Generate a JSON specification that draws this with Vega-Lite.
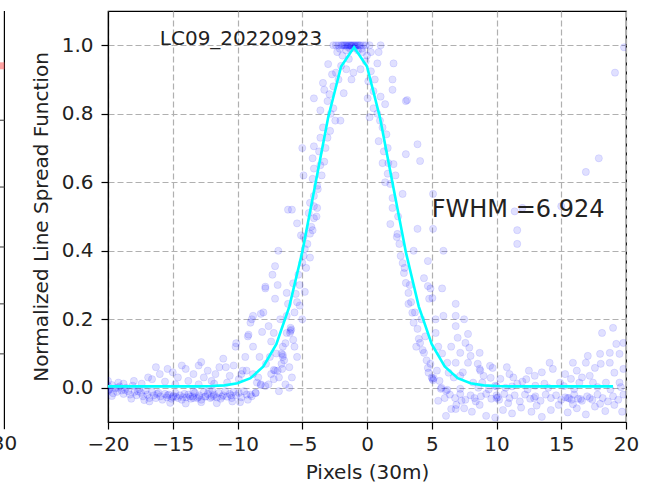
{
  "$schema": "https://vega.github.io/schema/vega-lite/v6.json",
  "width": 518,
  "height": 411,
  "autosize": {"type": "none"},
  "padding": {"left": 108, "top": 11, "right": 39, "bottom": 64},
  "background": "#ffffff",
  "config": {
    "view": {"stroke": "#000000", "strokeWidth": 1.2},
    "font": "DejaVu Sans",
    "axis": {
      "domainColor": "#000000", "domainWidth": 1.2,
      "tickColor": "#000000", "tickWidth": 1.2, "tickSize": 7,
      "labelFont": "DejaVu Sans", "labelFontSize": 20, "labelColor": "#222222",
      "titleFont": "DejaVu Sans", "titleFontSize": 20, "titleFontWeight": "normal", "titleColor": "#222222",
      "gridColor": "#b0b0b0", "gridDash": [6, 3], "gridWidth": 1.2, "gridOpacity": 1,
      "labelFlush": false, "labelOverlap": false
    }
  },
  "datasets": {
    "pts": [
      {"x":-20,"y":0.005},{"x":-20,"y":-0.01},{"x":-19.85,"y":-0.004},{"x":-19.7,"y":0.008},{"x":-19.6,"y":-0.016},{"x":-19.45,"y":-0.002},{"x":-19.3,"y":-0.012},{"x":-19.1,"y":0.004},{"x":-18.95,"y":-0.008},{"x":-18.8,"y":-0.018},{"x":-18.6,"y":0.0},{"x":-18.45,"y":-0.01},{"x":-18.3,"y":-0.02},{"x":-18.1,"y":0.006},{"x":-17.95,"y":-0.012},{"x":-17.8,"y":-0.022},{"x":-17.6,"y":-0.004},{"x":-17.45,"y":-0.015},{"x":-17.3,"y":-0.025},{"x":-17.1,"y":-0.008},{"x":-16.95,"y":-0.02},{"x":-16.8,"y":-0.03},{"x":-16.6,"y":-0.012},{"x":-16.45,"y":-0.022},{"x":-16.3,"y":-0.03},{"x":-16.1,"y":-0.015},{"x":-15.95,"y":-0.025},{"x":-15.8,"y":-0.035},{"x":-15.6,"y":-0.018},{"x":-15.45,"y":-0.028},{"x":-15.3,"y":-0.02},{"x":-15.1,"y":-0.032},{"x":-14.95,"y":-0.024},{"x":-14.8,"y":-0.015},{"x":-14.6,"y":-0.03},{"x":-14.45,"y":-0.022},{"x":-14.3,"y":-0.035},{"x":-14.1,"y":-0.018},{"x":-13.95,"y":-0.028},{"x":-13.8,"y":-0.02},{"x":-13.6,"y":-0.032},{"x":-13.45,"y":-0.025},{"x":-13.3,"y":-0.015},{"x":-13.1,"y":-0.03},{"x":-12.95,"y":-0.022},{"x":-12.8,"y":-0.035},{"x":-12.6,"y":-0.012},{"x":-12.45,"y":-0.025},{"x":-12.3,"y":-0.018},{"x":-12.1,"y":-0.03},{"x":-11.95,"y":-0.008},{"x":-11.8,"y":-0.02},{"x":-11.6,"y":-0.028},{"x":-11.45,"y":-0.015},{"x":-11.3,"y":-0.032},{"x":-11.1,"y":-0.022},{"x":-10.95,"y":-0.01},{"x":-10.8,"y":-0.026},{"x":-10.6,"y":-0.018},{"x":-10.45,"y":-0.03},{"x":-10.3,"y":-0.012},{"x":-10.1,"y":-0.022},{"x":-9.9,"y":-0.015},{"x":-9.7,"y":-0.028},{"x":-9.5,"y":-0.01},{"x":-9.3,"y":-0.02},
      {"x":-19.9,"y":-0.003},{"x":-19.2,"y":0.0},{"x":-18.7,"y":-0.006},{"x":-17.7,"y":-0.01},{"x":-16.2,"y":-0.018},{"x":-15.4,"y":-0.022},{"x":-14.75,"y":-0.026},{"x":-14.2,"y":-0.027},{"x":-13.65,"y":-0.025},{"x":-13.0,"y":-0.027},{"x":-12.5,"y":-0.026},{"x":-11.85,"y":-0.024},{"x":-11.2,"y":-0.026},{"x":-10.5,"y":-0.022},{"x":-15.0,"y":-0.027},{"x":-13.4,"y":-0.03},{"x":-12.0,"y":-0.027},
      {"x":-19.7,"y":-0.024},{"x":-18.2,"y":-0.032},{"x":-16.8,"y":-0.04},{"x":-15.2,"y":-0.044},{"x":-14.0,"y":-0.046},{"x":-12.8,"y":-0.042},{"x":-11.6,"y":-0.045},{"x":-10.4,"y":-0.04},{"x":-9.8,"y":-0.042},{"x":-13.4,"y":-0.01},{"x":-12.2,"y":-0.006},{"x":-17.2,"y":-0.036},{"x":-9.2,"y":-0.035},{"x":-8.9,"y":-0.025},{"x":-8.6,"y":-0.015},
      {"x":-20,"y":0.02},{"x":-19.2,"y":0.015},{"x":-18.8,"y":0.012},{"x":-18.0,"y":0.02},{"x":-17.4,"y":0.012},{"x":-16.9,"y":0.03},{"x":-16.6,"y":0.025},{"x":-16.0,"y":0.04},{"x":-15.6,"y":0.018},{"x":-15.0,"y":0.045},{"x":-14.6,"y":0.03},{"x":-14.0,"y":0.055},{"x":-13.8,"y":0.02},{"x":-13.4,"y":0.04},{"x":-13.0,"y":0.065},{"x":-12.6,"y":0.03},{"x":-12.3,"y":0.05},{"x":-12.0,"y":0.02},{"x":-11.7,"y":0.04},{"x":-11.4,"y":0.06},{"x":-11.1,"y":0.085},{"x":-10.9,"y":0.06},{"x":-10.6,"y":0.035},{"x":-10.3,"y":0.065},{"x":-10.1,"y":0.13},{"x":-10.15,"y":0.12},{"x":-9.9,"y":0.025},{"x":-9.6,"y":0.05},{"x":-9.3,"y":0.05},{"x":-16.3,"y":0.06},{"x":-14.3,"y":0.065},{"x":-13.0,"y":0.01},{"x":-11.8,"y":0.012},{"x":-10.8,"y":0.015},{"x":-12.8,"y":0.075},{"x":-14.8,"y":0.01},{"x":-15.4,"y":0.055},
      {"x":-9.15,"y":0.155},{"x":-9.0,"y":0.19},{"x":-9.2,"y":0.15},{"x":-8.9,"y":0.2},{"x":-8.8,"y":0.21},{"x":-8.2,"y":0.216},{"x":-8.1,"y":0.163},{"x":-8.0,"y":0.22},{"x":-7.85,"y":0.29},{"x":-7.85,"y":0.295},{"x":-7.1,"y":0.355},{"x":-6.85,"y":0.4},{"x":-7.1,"y":0.26},{"x":-7.2,"y":0.16},{"x":-7.4,"y":0.135},{"x":-8.5,"y":0.015},{"x":-8.2,"y":0.01},{"x":-7.85,"y":0.005},{"x":-7.2,"y":0.025},{"x":-7.1,"y":0.05},{"x":-6.6,"y":0.07},{"x":-8.6,"y":-0.015},{"x":-9.0,"y":-0.02},{"x":-8.2,"y":0.008},{"x":-7.2,"y":0.052},{"x":-6.5,"y":0.12},{"x":-6.6,"y":0.1},{"x":-6.2,"y":0.16},{"x":-6.3,"y":0.13},{"x":-6.5,"y":0.096},{"x":-5.9,"y":0.166},{"x":-5.95,"y":0.16},{"x":-5.85,"y":0.17},{"x":-5.9,"y":0.175},{"x":-6.5,"y":0.09},{"x":-6.55,"y":0.055},{"x":-6.2,"y":0.21},{"x":-6.1,"y":0.245},{"x":-5.5,"y":0.274},{"x":-5.7,"y":0.305},{"x":-5.3,"y":0.33},{"x":-5.0,"y":0.365},{"x":-4.9,"y":0.385},{"x":-4.8,"y":0.405},{"x":-4.9,"y":0.44},{"x":-4.4,"y":0.45},{"x":-4.3,"y":0.47},{"x":-4.1,"y":0.495},{"x":-6.2,"y":0.277},{"x":-6.1,"y":0.52},{"x":-5.8,"y":0.52},{"x":-5.4,"y":0.48},{"x":-5.1,"y":0.445},{"x":-4.5,"y":0.51},{"x":-4.1,"y":0.53},{"x":-8.8,"y":0.04},{"x":-8.4,"y":0.03},{"x":-7.6,"y":0.01},{"x":-7.4,"y":0.04},{"x":-6.9,"y":0.05},{"x":-6.4,"y":0.08},{"x":-6.8,"y":0.03},{"x":-7.0,"y":0.1},{"x":-6.7,"y":0.2},{"x":-5.6,"y":0.22},{"x":-5.4,"y":0.25},{"x":-5.2,"y":0.3},{"x":-4.7,"y":0.35},{"x":-4.6,"y":0.42},{"x":-5.0,"y":0.2},{"x":-5.6,"y":0.12},{"x":-5.4,"y":0.09},{"x":-6.0,"y":0.06},{"x":-5.8,"y":0.03},{"x":-6.3,"y":0.01},{"x":-7.8,"y":0.07},{"x":-7.5,"y":0.09},{"x":-6.0,"y":0.0},{"x":-6.8,"y":-0.01},{"x":-5.7,"y":0.14},{"x":-5.2,"y":0.24},{"x":-4.8,"y":0.28},{"x":-4.4,"y":0.38},{"x":-4.2,"y":0.46},{"x":-3.9,"y":0.5},
      {"x":-9.4,"y":0.09},{"x":-9.7,"y":0.04},{"x":-8.8,"y":0.12},{"x":-8.3,"y":0.09},{"x":-7.6,"y":0.18},{"x":-7.3,"y":0.33},{"x":-6.9,"y":0.3},
      {"x":-4.1,"y":0.845},{"x":-3.0,"y":0.945},{"x":-3.4,"y":0.89},{"x":-3.3,"y":0.87},{"x":-2.7,"y":0.915},{"x":-2.4,"y":0.92},{"x":-3.05,"y":0.837},{"x":-2.6,"y":0.816},{"x":-2.9,"y":0.857},{"x":-2.05,"y":0.78},{"x":-1.8,"y":0.86},{"x":-2.45,"y":0.78},{"x":-2.85,"y":0.75},{"x":-3.05,"y":0.73},{"x":-3.6,"y":0.73},{"x":-4.1,"y":0.705},{"x":-3.7,"y":0.69},{"x":-5.0,"y":0.7},{"x":-4.2,"y":0.67},{"x":-4.1,"y":0.64},{"x":-4.9,"y":0.62},{"x":-4.2,"y":0.61},{"x":-3.85,"y":0.59},{"x":-3.8,"y":0.58},{"x":-4.1,"y":0.56},{"x":-4.4,"y":0.54},{"x":-3.85,"y":0.525},{"x":-3.6,"y":0.81},{"x":-3.5,"y":0.62},{"x":-3.3,"y":0.66},{"x":-3.2,"y":0.7},{"x":-3.4,"y":0.76},{"x":-2.6,"y":0.88},{"x":-2.2,"y":0.9},{"x":-2.0,"y":0.94},{"x":-1.6,"y":0.93},{"x":-1.4,"y":0.96},{"x":-1.2,"y":0.9},{"x":-1.05,"y":0.92},{"x":-2.8,"y":0.8},{"x":-3.6,"y":0.65},
      {"x":-2.6,"y":1.0},{"x":-2.4,"y":1.0},{"x":-2.2,"y":1.0},{"x":-2.0,"y":1.0},{"x":-1.9,"y":1.0},{"x":-1.8,"y":1.0},{"x":-1.7,"y":1.0},{"x":-1.6,"y":1.0},{"x":-1.5,"y":1.0},{"x":-1.4,"y":1.0},{"x":-1.3,"y":1.0},{"x":-1.2,"y":1.0},{"x":-1.1,"y":1.0},{"x":-1.0,"y":1.0},{"x":-0.9,"y":1.0},{"x":-0.8,"y":1.0},{"x":-0.7,"y":1.0},{"x":-0.6,"y":1.0},{"x":-0.5,"y":1.0},{"x":-0.3,"y":1.0},{"x":-0.1,"y":1.0},{"x":0.2,"y":1.0},{"x":-1.5,"y":0.995},{"x":-1.2,"y":0.998},{"x":-0.9,"y":0.996},{"x":-2.3,"y":0.98},{"x":-1.9,"y":0.97},{"x":0.0,"y":0.97},{"x":0.3,"y":0.98},{"x":-1.6,"y":0.985},{"x":-0.7,"y":0.985},{"x":-1.3,"y":0.99},{"x":-1.0,"y":0.992},{"x":-2.1,"y":0.99},{"x":-0.4,"y":0.99},
      {"x":-0.1,"y":0.953},{"x":-0.35,"y":0.98},{"x":0.1,"y":0.895},{"x":0.8,"y":0.947},{"x":0.9,"y":0.98},{"x":1.05,"y":1.0},{"x":2.05,"y":0.947},{"x":1.97,"y":0.9},{"x":1.97,"y":0.87},{"x":1.05,"y":0.85},{"x":0.5,"y":0.816},{"x":0.8,"y":0.8},{"x":1.2,"y":0.76},{"x":0.9,"y":0.72},{"x":1.3,"y":0.69},{"x":1.2,"y":0.656},{"x":1.65,"y":0.656},{"x":2.05,"y":0.653},{"x":1.6,"y":0.625},{"x":1.8,"y":0.595},{"x":1.97,"y":0.554},{"x":2.75,"y":0.566},{"x":1.97,"y":0.525},{"x":3.0,"y":0.837},{"x":3.1,"y":0.84},{"x":3.9,"y":0.711},{"x":3.0,"y":0.682},{"x":4.1,"y":0.662},{"x":5.1,"y":0.566},{"x":0.3,"y":0.924},{"x":0.5,"y":0.866},{"x":0.05,"y":0.845},{"x":1.4,"y":0.828},{"x":-0.5,"y":0.93},{"x":0.6,"y":0.9},{"x":1.0,"y":0.78},{"x":1.5,"y":0.74},{"x":1.4,"y":0.6},{"x":2.2,"y":0.62},{"x":2.4,"y":0.5},{"x":1.6,"y":0.7},{"x":0.2,"y":0.79},
      {"x":1.8,"y":0.478},{"x":2.35,"y":0.449},{"x":2.3,"y":0.44},{"x":2.6,"y":0.385},{"x":2.75,"y":0.364},{"x":2.85,"y":0.335},{"x":3.0,"y":0.306},{"x":3.2,"y":0.277},{"x":3.2,"y":0.245},{"x":3.5,"y":0.219},{"x":3.6,"y":0.19},{"x":3.9,"y":0.172},{"x":4.0,"y":0.143},{"x":4.1,"y":0.131},{"x":4.4,"y":0.102},{"x":4.3,"y":0.11},{"x":4.7,"y":0.058},{"x":4.75,"y":0.044},{"x":5.05,"y":0.026},{"x":5.1,"y":0.022},{"x":5.0,"y":0.03},{"x":5.15,"y":0.028},{"x":5.7,"y":-0.003},{"x":5.75,"y":0.0},{"x":6.1,"y":-0.009},{"x":6.2,"y":-0.006},{"x":3.9,"y":0.464},{"x":4.7,"y":0.37},{"x":4.9,"y":0.29},{"x":5.05,"y":0.262},{"x":5.9,"y":0.4},{"x":5.8,"y":0.29},{"x":5.9,"y":0.21},{"x":5.3,"y":0.16},{"x":5.8,"y":0.1},{"x":5.1,"y":0.464},{"x":4.7,"y":0.297},{"x":4.8,"y":0.26},{"x":6.2,"y":0.073},{"x":6.3,"y":0.044},{"x":6.5,"y":-0.062},{"x":6.1,"y":-0.082},{"x":5.5,"y":-0.038},{"x":6.0,"y":-0.03},{"x":2.5,"y":0.42},{"x":2.9,"y":0.35},{"x":3.3,"y":0.3},{"x":3.4,"y":0.25},{"x":3.7,"y":0.22},{"x":4.2,"y":0.2},{"x":4.5,"y":0.15},{"x":4.6,"y":0.08},{"x":3.8,"y":0.12},{"x":4.9,"y":0.07},{"x":5.4,"y":0.05},{"x":5.6,"y":0.02},{"x":4.4,"y":0.32},{"x":3.6,"y":0.4},{"x":5.5,"y":0.12},{"x":5.3,"y":0.2},
      {"x":6.85,"y":0.245},{"x":6.85,"y":0.21},{"x":6.85,"y":0.18},{"x":7.0,"y":0.146},{"x":7.8,"y":0.157},{"x":7.6,"y":0.131},{"x":7.2,"y":0.102},{"x":7.9,"y":0.117},{"x":8.0,"y":0.093},{"x":8.7,"y":0.102},{"x":7.8,"y":0.073},{"x":8.55,"y":0.07},{"x":8.7,"y":0.055},{"x":8.75,"y":0.05},{"x":9.5,"y":0.064},{"x":9.7,"y":0.058},{"x":9.55,"y":0.029},{"x":7.2,"y":0.035},{"x":7.4,"y":0.045},{"x":8.2,"y":0.015},{"x":8.9,"y":0.015},{"x":9.9,"y":0.006},{"x":10.0,"y":0.004},{"x":10.3,"y":0.026},{"x":10.7,"y":0.0},{"x":11.6,"y":0.012},{"x":12.0,"y":0.018},{"x":12.95,"y":0.035},{"x":13.0,"y":0.006},{"x":14.1,"y":0.073},{"x":14.35,"y":0.055},{"x":13.7,"y":0.012},{"x":14.9,"y":0.015},{"x":15.75,"y":0.026},{"x":15.9,"y":0.073},{"x":16.9,"y":0.073},{"x":17.05,"y":0.093},{"x":17.2,"y":0.035},{"x":18.0,"y":0.099},{"x":18.05,"y":0.07},{"x":18.75,"y":0.102},{"x":19.0,"y":0.175},{"x":18.15,"y":0.16},{"x":19.25,"y":0.128},{"x":19.8,"y":0.131},{"x":19.5,"y":0.099},{"x":18.75,"y":0.073},{"x":17.6,"y":0.058},{"x":19.1,"y":0.044},{"x":19.8,"y":0.055},{"x":19.5,"y":0.015},{"x":18.45,"y":0.015},{"x":17.45,"y":0.015},{"x":16.4,"y":0.015},{"x":6.85,"y":0.073},{"x":7.2,"y":-0.003},{"x":7.3,"y":-0.038},{"x":6.85,"y":-0.062},{"x":6.7,"y":0.03},{"x":6.5,"y":0.12},{"x":7.5,"y":0.2},{"x":11.0,"y":0.04},{"x":12.5,"y":0.05},{"x":13.5,"y":0.045},{"x":16.2,"y":0.05},{"x":16.6,"y":0.03},{"x":15.3,"y":0.04},{"x":10.8,"y":0.06},{"x":12.3,"y":0.025},{"x":9.0,"y":0.035},{"x":11.3,"y":0.03},
      {"x":6.4,"y":-0.02},{"x":6.8,"y":-0.03},{"x":7.2,"y":-0.018},{"x":7.6,"y":-0.035},{"x":8.0,"y":-0.022},{"x":8.4,"y":-0.04},{"x":8.8,"y":-0.025},{"x":9.2,"y":-0.018},{"x":9.6,"y":-0.032},{"x":10.0,"y":-0.022},{"x":10.1,"y":-0.028},{"x":10.2,"y":-0.035},{"x":10.6,"y":-0.018},{"x":11.0,"y":-0.03},{"x":11.4,"y":-0.022},{"x":11.8,"y":-0.04},{"x":12.2,"y":-0.02},{"x":12.6,"y":-0.032},{"x":13.0,"y":-0.025},{"x":13.4,"y":-0.038},{"x":13.8,"y":-0.02},{"x":14.2,"y":-0.03},{"x":14.6,"y":-0.022},{"x":15.0,"y":-0.035},{"x":15.3,"y":-0.028},{"x":15.6,"y":-0.03},{"x":15.8,"y":-0.035},{"x":16.0,"y":-0.02},{"x":16.3,"y":-0.032},{"x":16.6,"y":-0.038},{"x":17.0,"y":-0.025},{"x":17.4,"y":-0.035},{"x":17.8,"y":-0.02},{"x":18.2,"y":-0.03},{"x":18.6,"y":-0.04},{"x":19.0,"y":-0.025},{"x":19.4,"y":-0.035},{"x":19.8,"y":-0.02},{"x":15.5,"y":-0.03},{"x":16.5,"y":-0.033},{"x":17.2,"y":-0.03},{"x":12.9,"y":-0.03},{"x":10.0,"y":-0.03},{"x":8.3,"y":-0.03},
      {"x":6.9,"y":-0.05},{"x":7.5,"y":-0.06},{"x":8.1,"y":-0.07},{"x":9.2,"y":-0.082},{"x":9.9,"y":-0.087},{"x":10.5,"y":-0.065},{"x":11.2,"y":-0.075},{"x":11.9,"y":-0.058},{"x":12.7,"y":-0.07},{"x":13.5,"y":-0.085},{"x":14.2,"y":-0.065},{"x":14.8,"y":-0.05},{"x":15.5,"y":-0.072},{"x":16.2,"y":-0.06},{"x":16.9,"y":-0.078},{"x":17.6,"y":-0.055},{"x":18.4,"y":-0.068},{"x":19.1,"y":-0.05},{"x":19.7,"y":-0.07},{"x":8.7,"y":-0.05},{"x":10.9,"y":-0.045},{"x":13.1,"y":-0.052},{"x":15.9,"y":-0.048},{"x":18.0,"y":-0.047},
      {"x":8.6,"y":0.0},{"x":9.4,"y":-0.005},{"x":11.2,"y":0.004},{"x":12.4,"y":-0.005},{"x":14.0,"y":0.0},{"x":15.2,"y":0.005},{"x":16.0,"y":-0.004},{"x":17.8,"y":0.002},{"x":18.8,"y":-0.005},{"x":19.6,"y":0.002},
      {"x":19.85,"y":0.994},{"x":19.15,"y":0.92},{"x":17.9,"y":0.67},{"x":16.9,"y":0.63},{"x":11.4,"y":0.515},{"x":12.0,"y":0.525},{"x":15.0,"y":0.53},{"x":11.6,"y":0.46},{"x":11.6,"y":0.42}
    ],
    "fit": [
      {"x":-20,"y":0.004},{"x":-19,"y":0.004},{"x":-18,"y":0.004},{"x":-17,"y":0.004},{"x":-16,"y":0.004},{"x":-15,"y":0.004},{"x":-14,"y":0.004},{"x":-13,"y":0.004},{"x":-12,"y":0.005},{"x":-11,"y":0.007},{"x":-10,"y":0.013},{"x":-9,"y":0.028},{"x":-8,"y":0.062},{"x":-7,"y":0.127},{"x":-6,"y":0.237},{"x":-5,"y":0.396},{"x":-4,"y":0.592},{"x":-3,"y":0.789},{"x":-2,"y":0.938},{"x":-1,"y":0.994},{"x":0,"y":0.938},{"x":1,"y":0.789},{"x":2,"y":0.592},{"x":3,"y":0.396},{"x":4,"y":0.237},{"x":5,"y":0.127},{"x":6,"y":0.062},{"x":7,"y":0.028},{"x":8,"y":0.013},{"x":9,"y":0.007},{"x":10,"y":0.005},{"x":11,"y":0.004},{"x":12,"y":0.004},{"x":13,"y":0.004},{"x":14,"y":0.004},{"x":15,"y":0.004},{"x":16,"y":0.004},{"x":17,"y":0.004},{"x":18,"y":0.004},{"x":19,"y":0.004}
    ],
    "notes": [
      {"x":-16,"y":1.0,"label":"LC09_20220923","size":20},
      {"x":5,"y":0.5,"label":"FWHM =6.924","size":24}
    ],
    "leftBorder": [{"x":-28,"y":-0.1,"y2":1.1}],
    "leftTick": [{"x":-28,"y":-0.1,"y2":-0.121}],
    "leftGrid": [{"x":-28.45,"x2":-28,"y":0.781},{"x":-28.45,"x2":-28,"y":0.586},{"x":-28.45,"x2":-28,"y":0.411},{"x":-28.45,"x2":-28,"y":0.245},{"x":-28.45,"x2":-28,"y":0.099}],
    "leftRed": [{"x":-28.45,"x2":-28,"y":0.94}],
    "leftLabel": [{"x":-28,"y":-0.1,"label":"30"}]
  },
  "layer": [
    {
      "data": {"name": "pts"},
      "mark": {"type": "circle", "size": 52, "fill": "#0000ff", "stroke": "#0000ff", "strokeWidth": 0.8, "fillOpacity": 0.12, "strokeOpacity": 0.12, "clip": true},
      "encoding": {
        "x": {"field": "x", "type": "quantitative", "scale": {"domain": [-20, 20], "nice": false, "zero": false},
              "axis": {"title": "Pixels (30m)", "values": [-20,-15,-10,-5,0,5,10,15,20], "labelPadding": 5, "titlePadding": 8}},
        "y": {"field": "y", "type": "quantitative", "scale": {"domain": [-0.1, 1.1], "nice": false, "zero": false},
              "axis": {"title": "Normalized Line Spread Function", "values": [0,0.2,0.4,0.6,0.8,1.0], "format": ".1f", "labelPadding": 8, "titlePadding": 10}}
      }
    },
    {
      "data": {"name": "fit"},
      "mark": {"type": "line", "color": "#00ffff", "strokeWidth": 2.6},
      "encoding": {
        "x": {"field": "x", "type": "quantitative"},
        "y": {"field": "y", "type": "quantitative"}
      }
    },
    {
      "data": {"name": "notes"},
      "mark": {"type": "text", "align": "left", "baseline": "alphabetic", "color": "#222222", "font": "DejaVu Sans"},
      "encoding": {
        "x": {"field": "x", "type": "quantitative"},
        "y": {"field": "y", "type": "quantitative"},
        "text": {"field": "label"},
        "size": {"field": "size", "type": "quantitative", "scale": null}
      }
    },
    {
      "data": {"name": "leftBorder"},
      "mark": {"type": "rule", "color": "#000000", "strokeWidth": 1.2},
      "encoding": {
        "x": {"field": "x", "type": "quantitative"},
        "y": {"field": "y", "type": "quantitative"},
        "y2": {"field": "y2"}
      }
    },
    {
      "data": {"name": "leftTick"},
      "mark": {"type": "rule", "color": "#000000", "strokeWidth": 1.2},
      "encoding": {
        "x": {"field": "x", "type": "quantitative"},
        "y": {"field": "y", "type": "quantitative"},
        "y2": {"field": "y2"}
      }
    },
    {
      "data": {"name": "leftGrid"},
      "mark": {"type": "rule", "color": "#555555", "strokeWidth": 1.2},
      "encoding": {
        "x": {"field": "x", "type": "quantitative"},
        "x2": {"field": "x2"},
        "y": {"field": "y", "type": "quantitative"}
      }
    },
    {
      "data": {"name": "leftRed"},
      "mark": {"type": "rule", "color": "#ff6666", "strokeWidth": 7, "opacity": 0.6},
      "encoding": {
        "x": {"field": "x", "type": "quantitative"},
        "x2": {"field": "x2"},
        "y": {"field": "y", "type": "quantitative"}
      }
    },
    {
      "data": {"name": "leftLabel"},
      "mark": {"type": "text", "align": "center", "baseline": "top", "dy": 12, "fontSize": 20, "color": "#222222", "font": "DejaVu Sans"},
      "encoding": {
        "x": {"field": "x", "type": "quantitative"},
        "y": {"field": "y", "type": "quantitative"},
        "text": {"field": "label"}
      }
    }
  ]
}
